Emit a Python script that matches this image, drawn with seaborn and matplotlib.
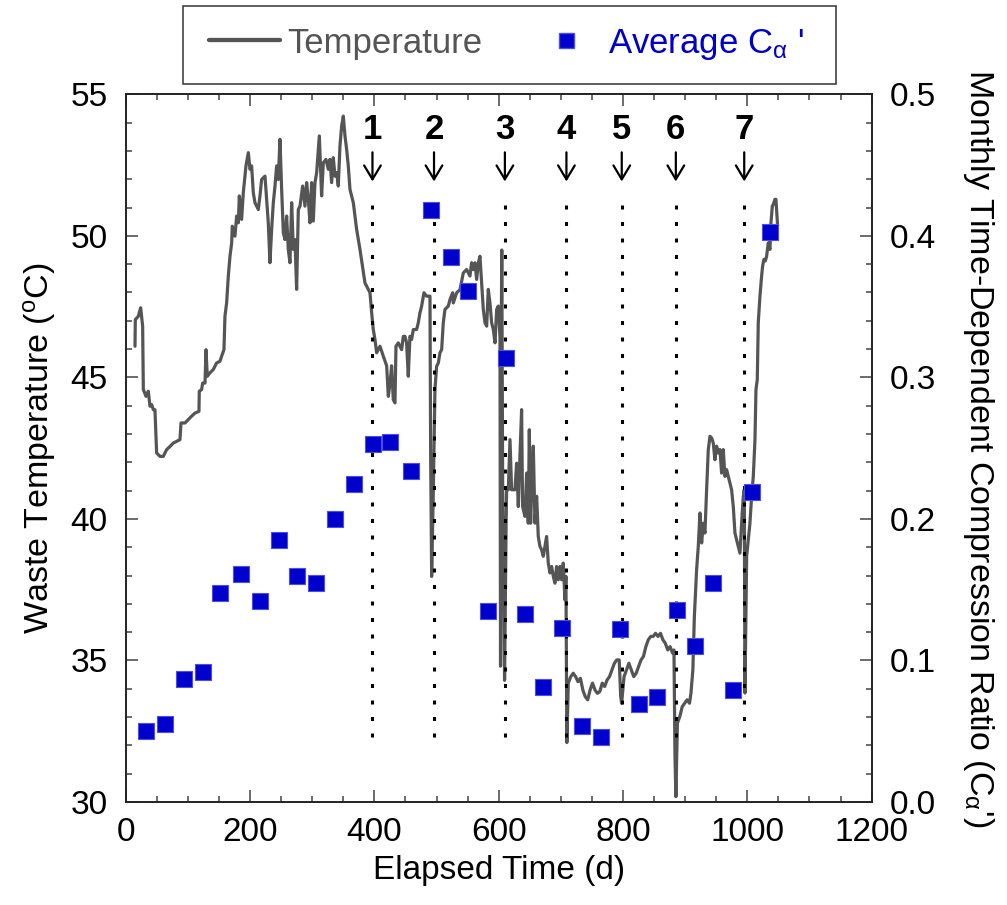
import matplotlib
matplotlib.use("Agg")
import matplotlib.pyplot as plt
import seaborn as sns
import pandas as pd
from matplotlib.ticker import MultipleLocator, FormatStrFormatter
from matplotlib.lines import Line2D
from matplotlib.patches import Rectangle

# ---------------- data ----------------
temp_days = [
    15.0, 15.5, 20.3, 24.1, 27.3, 28.4, 32.7, 36.4, 39.1, 41.8, 44.5, 47.1, 49.8, 55.2, 60.5, 65.9,
    71.3, 76.6, 82.0, 87.3, 89.0, 95.4, 100.8, 106.1, 111.5, 117.9, 118.4, 122.2, 123.8, 127.6,
    129.2, 131.3, 135.6, 141.0, 146.3, 151.7, 154.4, 158.1, 159.7, 162.4, 165.1, 167.8, 170.5,
    171.5, 175.8, 178.5, 181.2, 182.8, 186.5, 189.2, 193.5, 197.3, 200.0, 202.6, 205.3, 208.0,
    210.7, 213.4, 216.0, 218.7, 224.1, 226.8, 229.4, 232.1, 234.8, 237.5, 240.2, 242.8, 245.5,
    248.2, 250.9, 253.6, 256.2, 258.9, 261.6, 264.3, 267.0, 269.7, 272.3, 275.0, 277.7, 280.4,
    284.7, 288.4, 291.1, 293.8, 296.5, 299.1, 301.8, 304.5, 307.2, 309.9, 311.5, 313.6, 315.2,
    317.9, 322.2, 326.0, 328.6, 331.3, 334.0, 336.7, 339.4, 342.0, 344.7, 347.4, 350.1, 352.8,
    355.4, 358.1, 360.8, 366.2, 371.5, 376.9, 384.9, 390.3, 393.0, 395.7, 398.3, 401.0, 403.7,
    409.1, 414.4, 419.8, 422.5, 425.2, 427.8, 430.5, 433.2, 434.8, 438.5, 441.2, 443.9, 446.6,
    449.3, 451.9, 454.6, 457.3, 460.0, 462.7, 468.0, 470.7, 473.4, 476.1, 479.8, 484.1, 489.5,
    490.6, 492.2, 494.9, 497.5, 500.2, 502.9, 505.6, 508.3, 510.9, 513.6, 519.0, 521.7, 526.0,
    527.0, 532.4, 537.8, 543.1, 548.5, 553.8, 556.5, 559.2, 561.9, 564.6, 567.3, 569.9, 572.6,
    575.3, 578.0, 580.7, 583.3, 586.0, 588.7, 591.4, 594.1, 596.8, 599.4, 602.1, 603.0, 604.0,
    605.0, 606.4, 607.5, 609.5, 612.0, 612.8, 615.5, 618.2, 620.8, 623.5, 626.2, 628.9, 631.6,
    634.2, 636.9, 638.5, 642.3, 645.0, 647.6, 649.3, 651.4, 653.0, 655.7, 658.4, 661.1, 663.7,
    666.4, 669.1, 671.8, 677.1, 679.8, 682.5, 685.2, 687.9, 690.5, 693.2, 695.9, 698.6, 701.3,
    703.9, 706.6, 708.2, 709.7, 712.0, 716.0, 719.9, 723.8, 727.6, 731.5, 735.4, 739.3, 743.2,
    747.1, 751.0, 754.9, 758.8, 762.7, 766.6, 770.5, 774.4, 778.3, 782.2, 786.1, 790.0, 793.9,
    796.3, 797.8, 801.7, 805.6, 809.5, 813.4, 817.3, 821.2, 825.1, 829.0, 832.9, 836.8, 840.7,
    844.6, 848.5, 852.4, 856.3, 860.3, 864.2, 868.0, 872.0, 875.8, 879.7, 882.0, 883.6, 885.1,
    887.5, 891.4, 895.3, 899.2, 903.1, 907.0, 909.3, 912.4, 914.8, 918.4, 921.1, 923.8, 926.5,
    929.2, 931.8, 934.5, 937.2, 939.9, 942.6, 945.2, 947.9, 950.6, 953.3, 956.0, 958.6, 961.3,
    964.0, 966.7, 969.4, 972.1, 974.7, 977.4, 980.1, 982.8, 985.5, 988.1, 990.8, 993.5, 995.1,
    996.2, 998.9, 1001.5, 1004.2, 1006.9, 1009.6, 1012.3, 1013.9, 1016.0, 1017.6, 1020.3, 1023.0,
    1024.6, 1026.7, 1028.9, 1031.0, 1033.7, 1036.4, 1038.0, 1040.2, 1041.8, 1044.4, 1046.0, 1048.7,
]
temp_values = [
    46.10, 47.04, 47.16, 47.46, 46.81, 44.57, 44.33, 44.51, 43.98, 44.04, 43.86, 43.86, 42.33, 42.21, 42.21, 42.45,
    42.56, 42.68, 42.74, 42.80, 43.39, 43.39, 43.51, 43.63, 43.74, 43.80, 44.51, 44.57, 44.80, 44.80,
    45.98, 45.04, 45.16, 45.28, 45.51, 45.57, 45.75, 45.98, 47.16, 47.63, 48.58, 49.28, 49.75,
    50.34, 49.99, 50.70, 50.46, 51.41, 50.58, 51.52, 52.47, 52.94, 52.35, 52.47, 51.52, 51.17,
    51.05, 50.93, 51.41, 51.99, 52.11, 51.29, 50.46, 49.05, 50.23, 51.17, 51.76, 52.47, 51.99,
    53.41, 51.64, 50.11, 49.87, 50.70, 49.52, 49.05, 51.17, 49.52, 49.87, 48.11, 50.93, 51.05,
    51.76, 51.05, 51.88, 51.29, 50.46, 51.88, 50.52, 51.88, 52.23, 53.06, 53.53, 52.35, 51.41,
    52.58, 52.70, 52.35, 52.70, 51.88, 52.76, 52.11, 52.23, 51.76, 53.17, 53.88, 54.23, 53.53,
    53.06, 52.47, 51.64, 51.17, 50.23, 49.52, 48.34, 48.11, 47.99, 47.28, 46.69, 46.34, 45.87,
    46.10, 45.75, 45.41, 44.33, 44.80, 45.41, 44.21, 44.10, 46.10, 46.22, 46.10, 45.98, 46.45,
    46.45, 46.22, 45.04, 46.45, 46.34, 46.69, 46.69, 46.93, 47.28, 47.52, 47.99, 47.87, 47.87,
    42.21, 37.97, 41.03, 44.57, 45.39, 45.51, 45.87, 45.98, 46.93, 47.40, 47.52, 47.75, 47.99,
    47.63, 47.99, 48.10, 48.69, 48.81, 48.58, 49.05, 48.81, 49.05, 48.46, 49.05, 49.28, 48.34,
    47.40, 46.93, 46.81, 48.11, 47.63, 46.93, 46.69, 46.22, 47.40, 47.52, 46.45, 34.80, 45.90,
    49.50, 41.30, 38.70, 34.30, 39.90, 41.03, 41.03, 42.80, 41.03, 41.03, 41.03, 41.97, 40.44,
    42.21, 43.86, 40.44, 40.09, 41.62, 39.85, 43.15, 39.85, 41.03, 42.57, 39.85, 40.80, 39.38,
    39.03, 38.91, 38.68, 39.38, 38.44, 38.09, 38.32, 37.97, 37.73, 38.32, 37.85, 38.32, 37.85,
    38.44, 37.14, 37.97, 32.10, 34.20, 34.43, 34.55, 34.43, 34.25, 34.37, 33.96, 33.72, 33.61,
    33.96, 34.20, 33.96, 33.84, 33.90, 34.20, 34.08, 34.31, 34.43, 34.67, 34.90, 35.02, 35.02,
    33.72, 33.49, 34.43, 34.67, 34.90, 34.67, 34.43, 34.55, 34.79, 35.02, 35.14, 35.49, 35.73,
    35.85, 35.85, 35.96, 35.85, 35.96, 35.73, 35.61, 35.37, 35.49, 35.26, 35.37, 31.60, 30.19,
    32.78, 33.02, 33.37, 33.49, 33.61, 33.49, 33.84, 34.67, 36.55, 38.20, 39.03, 40.21, 39.15,
    39.85, 39.50, 41.03, 42.45, 42.92, 42.86, 42.68, 42.09, 42.57, 42.33, 42.45, 41.62, 42.45,
    41.50, 41.74, 41.50, 41.27, 41.03, 40.44, 39.50, 39.26, 39.03, 38.79, 39.85, 40.80, 41.03,
    33.85, 38.68, 39.26, 39.85, 40.80, 41.50, 42.80, 44.57, 44.92, 46.93, 47.87, 48.58,
    48.93, 49.17, 49.11, 49.28, 49.75, 49.52, 50.46, 51.05, 51.11, 51.29, 51.29, 50.35,
]

ca_days = [32.2, 62.6, 93.8, 125.0, 151.5, 185.0, 216.0, 247.1, 276.2, 306.6, 337.1, 367.7,
           398.3, 425.6, 458.4, 490.6, 522.8, 551.1, 582.6, 611.2, 641.8, 671.6, 701.8, 734.0,
           764.2, 795.4, 825.2, 854.6, 886.8, 915.7, 945.2, 977.2, 1006.9, 1035.9]
ca_values = [0.050, 0.055, 0.087, 0.092, 0.148, 0.161, 0.142, 0.185, 0.160, 0.155, 0.200, 0.225,
             0.253, 0.254, 0.234, 0.418, 0.385, 0.361, 0.135, 0.314, 0.133, 0.081, 0.123, 0.054,
             0.046, 0.122, 0.069, 0.074, 0.136, 0.110, 0.155, 0.079, 0.219, 0.403]

event_days = [397, 496, 610, 709, 798, 885, 995]
event_labels = ["1", "2", "3", "4", "5", "6", "7"]

# ---------------- style ----------------
sns.set_style("ticks")
plt.rcParams["font.family"] = ["Liberation Sans", "DejaVu Sans"]
plt.rcParams["mathtext.fontset"] = "custom"
plt.rcParams["mathtext.rm"] = "Liberation Sans"
plt.rcParams["mathtext.it"] = "Liberation Sans:italic"
plt.rcParams["mathtext.default"] = "regular"
plt.rcParams["text.color"] = "black"
plt.rcParams["axes.labelcolor"] = "black"

TEMP_COLOR = "#555555"
CA_COLOR = "#0000CC"
CA_EDGE = "#4d4dee"

W, H = 1007, 905
fig = plt.figure(figsize=(W / 100, H / 100), dpi=100)
ax = fig.add_axes([0.1248, 0.1138, 0.7408, 0.7820])
ax2 = ax.twinx()

temp_df = pd.DataFrame({"day": temp_days, "temp": temp_values})
ca_df = pd.DataFrame({"day": ca_days, "ca": ca_values})

sns.lineplot(data=temp_df, x="day", y="temp", ax=ax, color=TEMP_COLOR, lw=2.3,
             sort=False, estimator=None, zorder=2)

# event markers: dotted lines, arrows, numbers
ax.vlines(event_days, 32.3, 51.2, colors="black", linestyles=(0, (1.3, 4.1)), lw=2.2, zorder=4)
for d, lab in zip(event_days, event_labels):
    ax.annotate("", xy=(d, 51.92), xytext=(d, 52.95),
                arrowprops=dict(arrowstyle="->,head_length=0.5,head_width=0.3", lw=1.6,
                                color="black", shrinkA=0, shrinkB=0, mutation_scale=20))
    ax.text(d, 53.76, lab, ha="center", va="center", fontsize=25, fontweight="bold")

sns.scatterplot(data=ca_df, x="day", y="ca", ax=ax2, marker="s", s=11.5 ** 2,
                color=CA_COLOR, edgecolor=CA_EDGE, linewidth=0.8, zorder=3)

ax.set_xlim(0, 1200)
ax.set_ylim(30, 55)
ax2.set_ylim(0, 0.5)
ax.xaxis.set_major_locator(MultipleLocator(200))
ax.xaxis.set_minor_locator(MultipleLocator(50))
ax.yaxis.set_major_locator(MultipleLocator(5))
ax.yaxis.set_minor_locator(MultipleLocator(1))
ax2.yaxis.set_major_locator(MultipleLocator(0.1))
ax2.yaxis.set_minor_locator(MultipleLocator(0.02))
ax2.yaxis.set_major_formatter(FormatStrFormatter("%.1f"))

tick_kw = dict(direction="in", color="#444444", labelcolor="black", labelsize=24)
ax.tick_params(axis="x", which="both", top=True, pad=11, **tick_kw)
ax.tick_params(axis="y", which="both", right=False, pad=13, **tick_kw)
ax2.tick_params(axis="y", which="both", pad=13, **tick_kw)
for a in (ax, ax2):
    a.tick_params(which="major", length=8.6, width=1.1)
    a.tick_params(which="minor", length=4.3, width=1.1)
    for sp in a.spines.values():
        sp.set_linewidth(1.2)
        sp.set_color("#222222")

ax.set_xlabel("Elapsed Time (d)", fontsize=24, labelpad=5)
ax.set_ylabel(r"Waste Temperature ($^{\rm o}$C)", fontsize=24.5, labelpad=9)
ax2.set_ylabel(r"Monthly Time-Dependent Compression Ratio (C$_{\alpha}$')", fontsize=24.5,
               rotation=270, va="bottom", labelpad=18)

# legend: content placed without frame, box drawn as a figure rectangle
handles = [Line2D([], [], color=TEMP_COLOR, lw=3.1),
           Line2D([], [], color=CA_COLOR, marker="s", ls="", markersize=10.8,
                  markeredgecolor=CA_EDGE)]
labels = ["Temperature", r"Average C$_{\alpha}$ '"]
leg = fig.legend(handles, labels, loc="center left", bbox_to_anchor=(209 / W, 1 - 44 / H),
                 ncol=2, frameon=False, fontsize=25, handlelength=2.05, handletextpad=0.2,
                 columnspacing=1.38, borderpad=0, borderaxespad=0)
for txt, c in zip(leg.get_texts(), [TEMP_COLOR, CA_COLOR]):
    txt.set_color(c)
fig.patches.append(Rectangle((183 / W, 1 - 84.3 / H), (836 - 183) / W, (84.3 - 5.7) / H,
                             transform=fig.transFigure, fill=False, edgecolor="#333333",
                             lw=1.1, zorder=5))

fig.savefig("out.png", dpi=100)
